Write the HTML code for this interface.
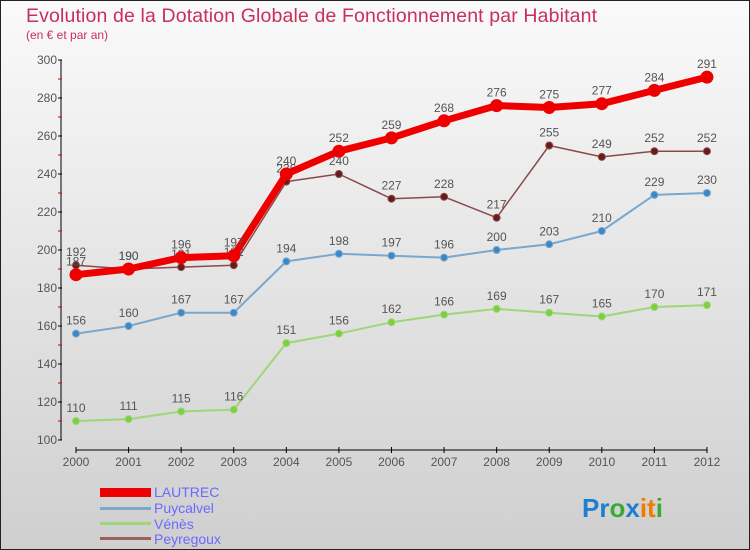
<!DOCTYPE html>
<html><head><meta charset="utf-8"><style>
body{margin:0;width:750px;height:550px;overflow:hidden;font-family:"Liberation Sans",sans-serif}
svg{display:block}
</style></head><body>
<svg id="c" width="750" height="550" xmlns="http://www.w3.org/2000/svg">
<defs><linearGradient id="bg" x1="0" y1="0" x2="0" y2="1"><stop offset="0" stop-color="#fafafa"/><stop offset="1" stop-color="#cfcfcf"/></linearGradient></defs>
<rect x="0.5" y="0.5" width="749" height="549" fill="url(#bg)" stroke="#222"/>
<text x="26" y="22" font-size="19.5" fill="#c8305a" textLength="571">Evolution de la Dotation Globale de Fonctionnement par Habitant</text>
<text x="26" y="39" font-size="12" fill="#c8305a">(en € et par an)</text>
<g id="axes"></g><g id="series"></g>
<g>
<rect x="100" y="488" width="51" height="9" fill="#e00"/>
<text x="154" y="497" font-size="14" fill="#6a6aff">LAUTREC</text>
<rect x="100" y="507" width="51" height="3" fill="#7ba7cc"/>
<text x="154" y="513" font-size="14" fill="#6a6aff">Puycalvel</text>
<rect x="100" y="522" width="51" height="3" fill="#9fd67a"/>
<text x="154" y="529" font-size="14" fill="#6a6aff">Vénès</text>
<rect x="100" y="537" width="51" height="3" fill="#9a6060"/>
<text x="154" y="544" font-size="14" fill="#6a6aff">Peyregoux</text>
</g>
<text x="582" y="517" font-size="26" font-weight="bold"><tspan fill="#1e7fd0">Pr</tspan><tspan fill="#3aaa35">o</tspan><tspan fill="#1e7fd0">x</tspan><tspan fill="#f07c00">it</tspan><tspan fill="#3aaa35">i</tspan></text>
</svg>
<script>
const years=["2000","2001","2002","2003","2004","2005","2006","2007","2008","2009","2010","2011","2012"];
const lautrec=[187,190,196,197,240,252,259,268,276,275,277,284,291];
const puycalvel=[156,160,167,167,194,198,197,196,200,203,210,229,230];
const venes=[110,111,115,116,151,156,162,166,169,167,165,170,171];
const peyregoux=[192,190,191,192,236,240,227,228,217,255,249,252,252];
const yTicks=[100,120,140,160,180,200,220,240,260,280,300];
const NS="http://www.w3.org/2000/svg";
const X=i=>76+i*52.58, Y=v=>440-(v-100)*1.9;
function mk(t,a,p){const e=document.createElementNS(NS,t);for(const k in a)e.setAttribute(k,a[k]);p.appendChild(e);return e;}
const ax=document.getElementById('axes');
let l=mk('line',{x1:61,y1:60,x2:61,y2:440,stroke:'#000'},ax);


l=mk('line',{x1:76,y1:450,x2:707,y2:450,stroke:'#000'},ax);


yTicks.forEach(v=>{
 mk('line',{x1:58,x2:62,y1:Y(v),y2:Y(v),stroke:'#000'},ax);
 if(v<300) mk('line',{x1:58,x2:62,y1:Y(v+10),y2:Y(v+10),stroke:'#d00'},ax);
 const t=mk('text',{x:57,y:Y(v)+4,'font-size':12,fill:'#555','text-anchor':'end'},ax);t.textContent=v;
 
 
});
years.forEach((y,i)=>{
 mk('line',{x1:X(i),x2:X(i),y1:447,y2:453,stroke:'#000'},ax);
 const t=mk('text',{x:X(i),y:466,'font-size':12,fill:'#555','text-anchor':'middle'},ax);t.textContent=y;
 
 
});
const sg=document.getElementById('series');
function series(d,name,color,w,r,dot){
 const g=mk('g',{},sg);
 
 
 mk('polyline',{points:d.map((v,i)=>X(i)+','+Y(v)).join(' '),fill:'none',stroke:color,'stroke-width':w,'stroke-linejoin':'round'},g);
 d.forEach((v,i)=>{
  const c=mk('circle',{cx:X(i),cy:Y(v),r:r,fill:dot,stroke:color,'stroke-width':1},g);
  
  
  const t=mk('text',{x:X(i),y:Y(v)-9,'font-size':12,fill:'#555','text-anchor':'middle'},g);t.textContent=v;
  
  
 });
}
series(venes,'venes','#9fd67a',2,3.5,'#7cd040');
series(puycalvel,'puycalvel','#7ba7cc',2,3.5,'#3a88c8');
series(peyregoux,'peyregoux','#8a4a4a',1.5,3.5,'#6a1a1a');
series(lautrec,'lautrec','#ee0000',7,6,'#ee0000');
</script>
</body></html>
